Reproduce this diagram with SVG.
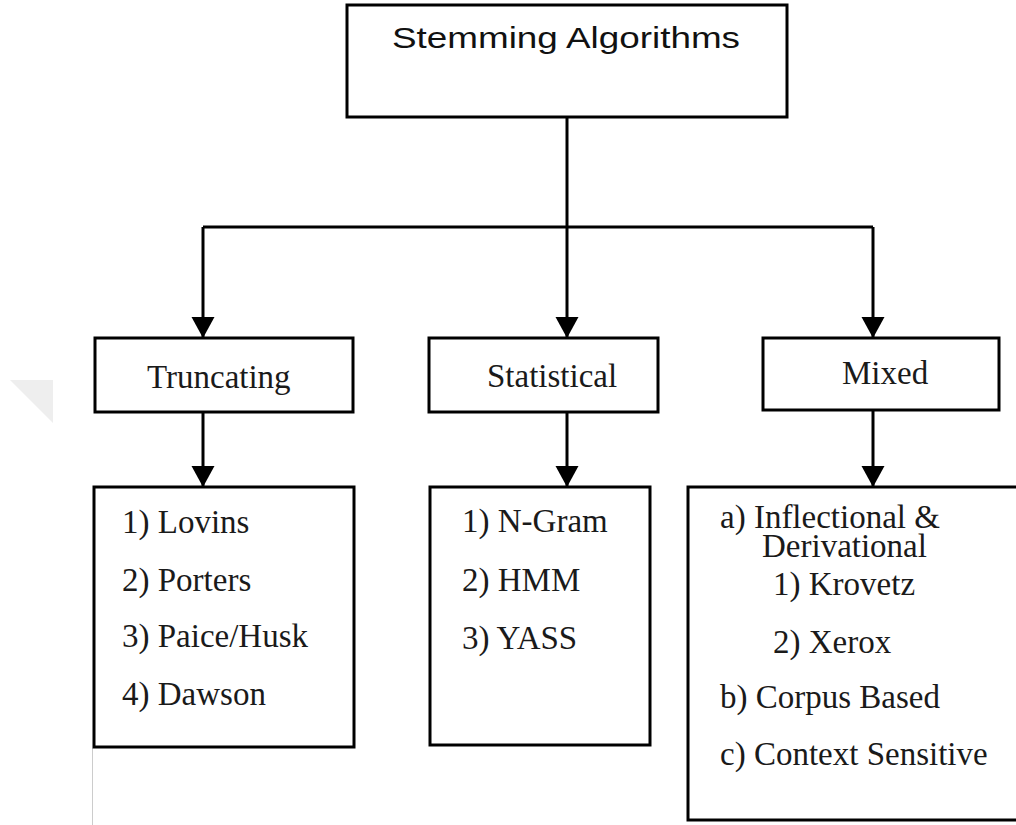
<svg xmlns="http://www.w3.org/2000/svg" width="1016" height="825" viewBox="0 0 1016 825">
  <defs>
    <style>
      .box { fill: #ffffff; stroke: #000000; stroke-width: 3; }
      .conn { fill: none; stroke: #000000; stroke-width: 3; }
      .sans { font-family: "Liberation Sans", Arial, sans-serif; fill: #111111; }
      .serif { font-family: "Liberation Serif", "Times New Roman", serif; font-size: 33px; fill: #1a1a1a; }
    </style>
    <marker id="arrow" markerUnits="userSpaceOnUse" markerWidth="22" markerHeight="24" refX="21" refY="12" orient="auto" viewBox="0 0 22 24">
      <path d="M0,0.5 L21,12 L0,23.5 z" fill="#000000"/>
    </marker>
  </defs>
  <rect width="1016" height="825" fill="#ffffff"/>

  <!-- faint background marks -->
  <polygon points="10,380 53,380 53,423" fill="#eeeeee"/>
  <line x1="92.5" y1="748" x2="92.5" y2="825" stroke="#cccccc" stroke-width="1"/>

  <g id="connectors">
    <path class="conn" d="M567,117 L567,338" marker-end="url(#arrow)"/>
    <path class="conn" d="M203,227 L873,227"/>
    <path class="conn" d="M203,227 L203,338" marker-end="url(#arrow)"/>
    <path class="conn" d="M873,227 L873,338" marker-end="url(#arrow)"/>
    <path class="conn" d="M203,412 L203,487" marker-end="url(#arrow)"/>
    <path class="conn" d="M567,412 L567,487" marker-end="url(#arrow)"/>
    <path class="conn" d="M873,410 L873,487" marker-end="url(#arrow)"/>
  </g>

  <g id="root">
    <rect class="box" x="347" y="5" width="440" height="112"/>
    <text class="sans" x="392" y="48" font-size="29" textLength="348" lengthAdjust="spacingAndGlyphs">Stemming Algorithms</text>
  </g>

  <g id="truncating">
    <rect class="box" x="95" y="338" width="258" height="74"/>
    <text class="serif" x="147" y="388">Truncating</text>
  </g>

  <g id="statistical">
    <rect class="box" x="429" y="338" width="229" height="74"/>
    <text class="serif" x="487" y="387">Statistical</text>
  </g>

  <g id="mixed">
    <rect class="box" x="763" y="338" width="236" height="72"/>
    <text class="serif" x="842" y="384">Mixed</text>
  </g>

  <g id="truncating-list">
    <rect class="box" x="94" y="487" width="260" height="260"/>
    <text class="serif" x="122" y="533">1) Lovins</text>
    <text class="serif" x="122" y="591">2) Porters</text>
    <text class="serif" x="122" y="647">3) Paice/Husk</text>
    <text class="serif" x="122" y="705">4) Dawson</text>
  </g>

  <g id="statistical-list">
    <rect class="box" x="430" y="487" width="220" height="258"/>
    <text class="serif" x="462" y="532">1) N-Gram</text>
    <text class="serif" x="462" y="591">2) HMM</text>
    <text class="serif" x="462" y="649">3) YASS</text>
  </g>

  <g id="mixed-list">
    <rect class="box" x="688" y="487" width="340" height="333"/>
    <text class="serif" x="720" y="528">a) Inflectional &amp;</text>
    <text class="serif" x="762" y="557">Derivational</text>
    <text class="serif" x="773" y="595">1) Krovetz</text>
    <text class="serif" x="773" y="653">2) Xerox</text>
    <text class="serif" x="720" y="708">b) Corpus Based</text>
    <text class="serif" x="720" y="765">c) Context Sensitive</text>
  </g>
</svg>
